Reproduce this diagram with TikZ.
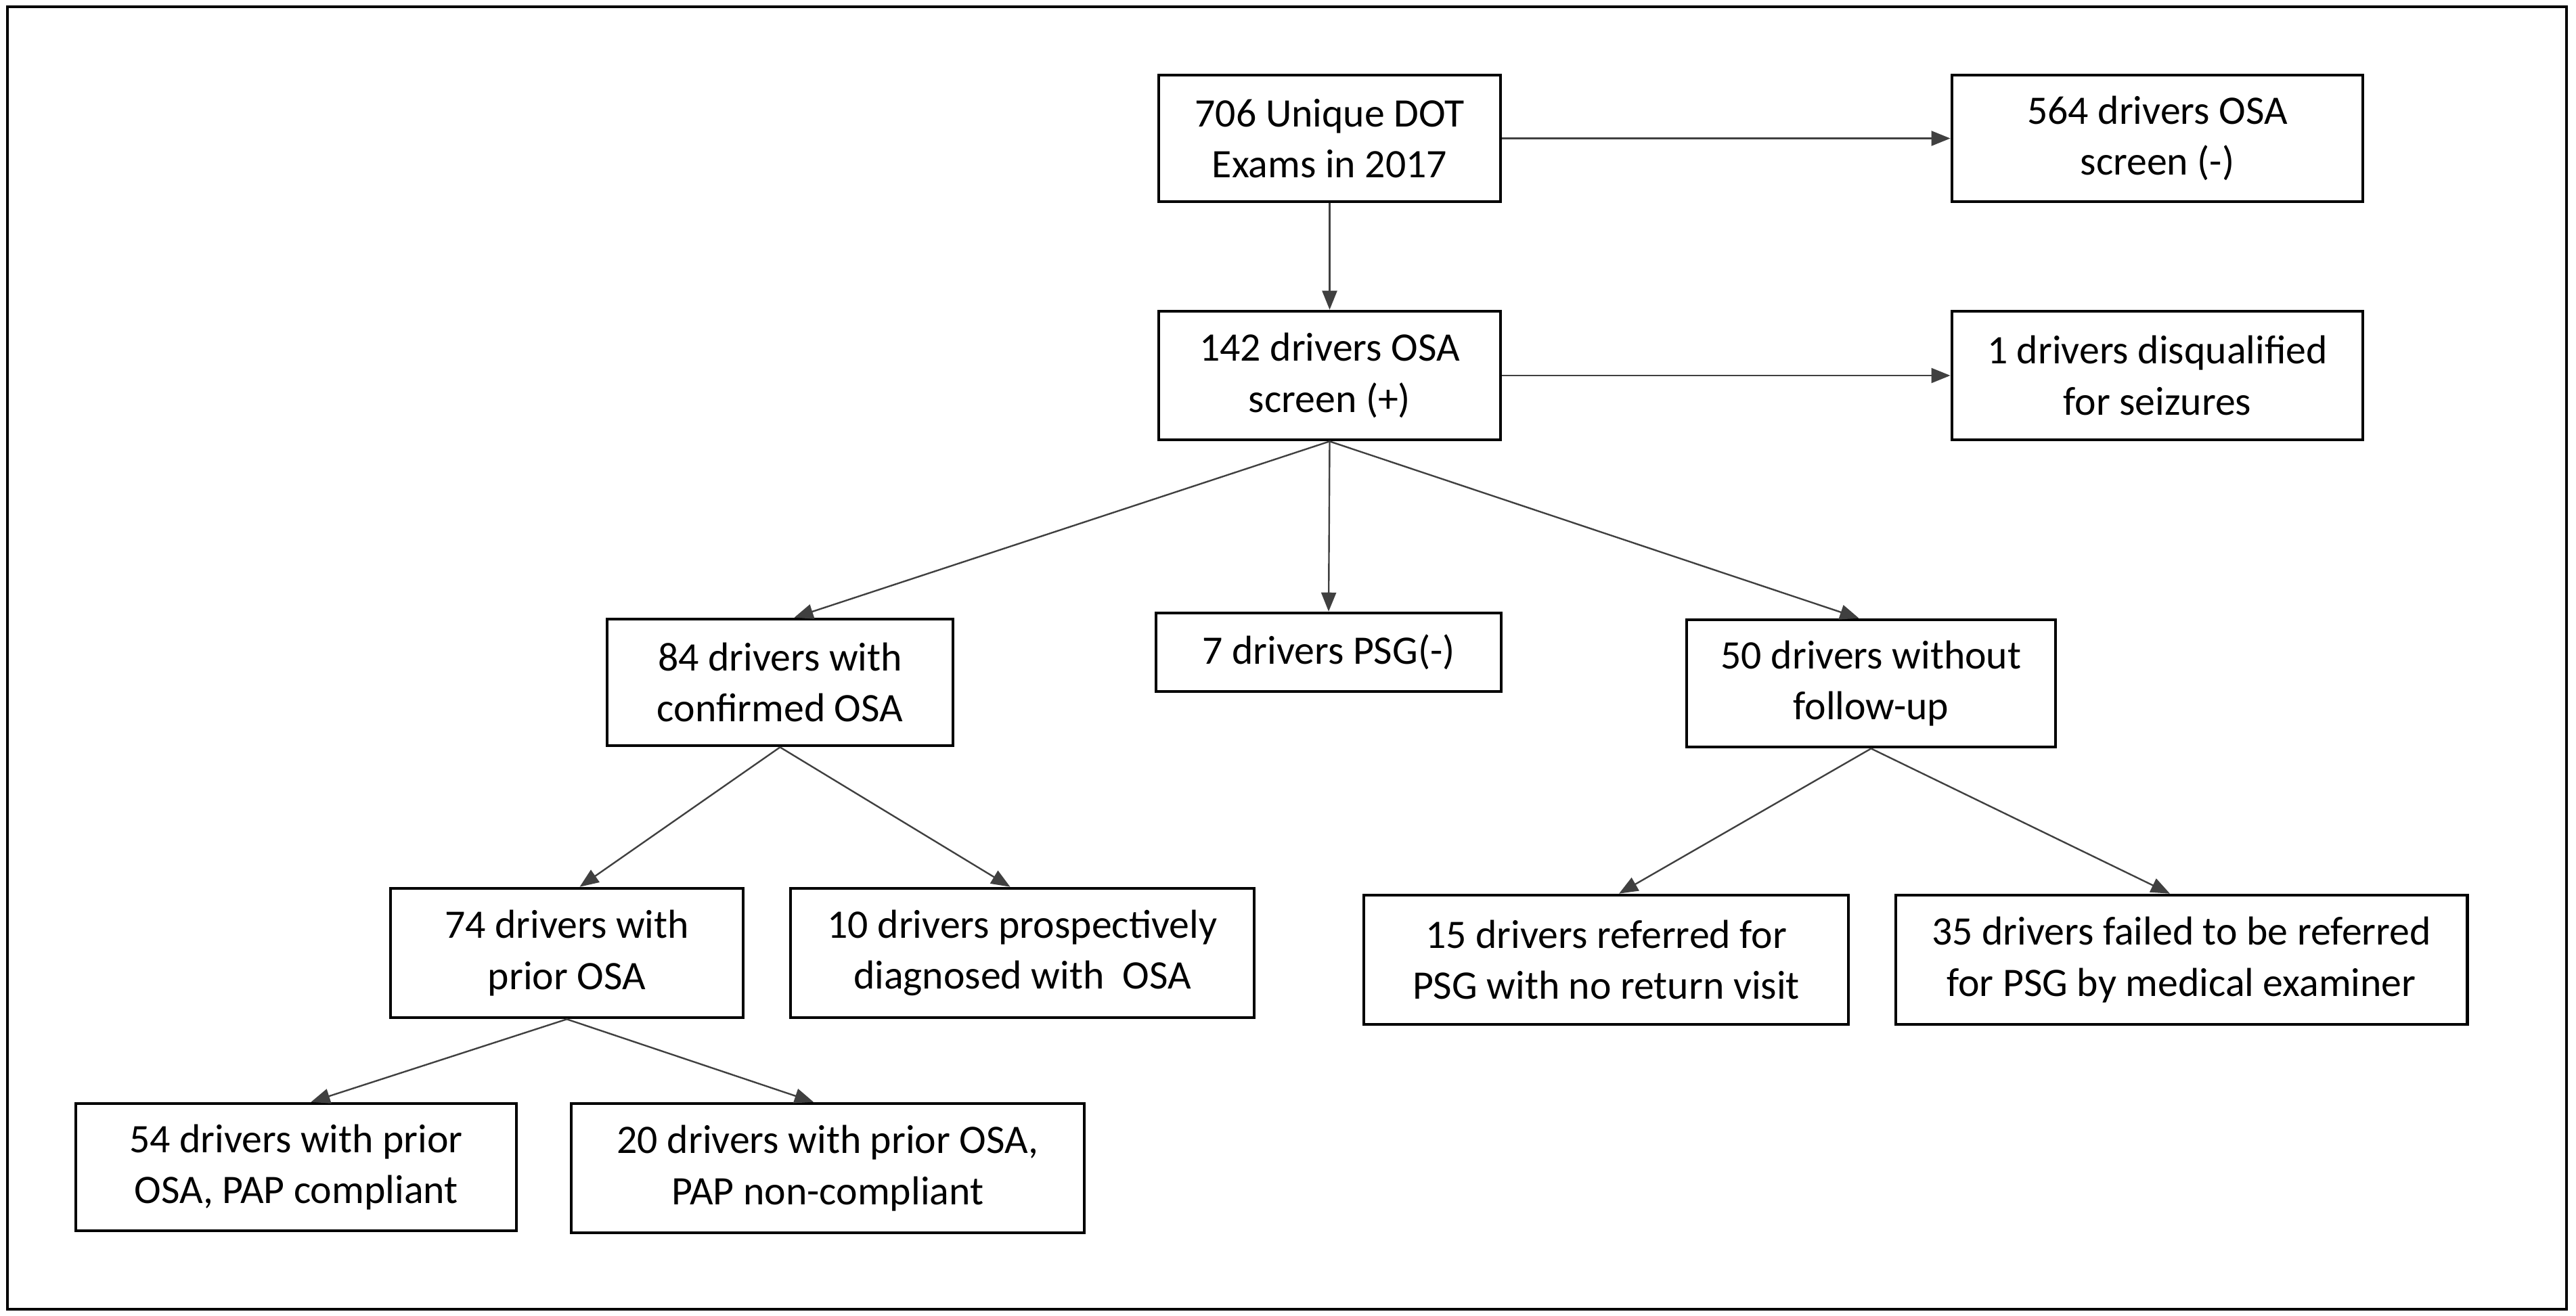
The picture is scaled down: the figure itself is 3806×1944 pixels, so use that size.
\documentclass[tikz,border=0pt]{standalone}
\usepackage{fontspec}
\setmainfont{Carlito}
\usetikzlibrary{arrows.meta,calc}
\tikzset{
  x=0.01cm, y=-0.01cm,
  box/.style={draw=black, line width=0.045cm, fill=white, align=center, inner sep=0pt,
    font=\fontsize{17}{21.5}\selectfont},
  conn/.style={draw=black!75, line width=0.024cm,
    -{Triangle[length=0.28cm,width=0.22cm]}},
}
\begin{document}
\begin{tikzpicture}
\useasboundingbox (0,0) rectangle (3806,1944);
\draw[line width=0.04cm] (11,10) rectangle (3792,1935);

\node[box, minimum width=5.05cm, minimum height=1.87cm] (n706) at (1964.5,204.5) {706 Unique DOT\\Exams in 2017};
\node[box, minimum width=6.07cm, minimum height=1.87cm] (n564) at (3187.5,204.5) {564 drivers OSA\\screen (-)};
\node[box, minimum width=5.05cm, minimum height=1.90cm] (n142) at (1964.5,555) {142 drivers OSA\\screen (+)};
\node[box, minimum width=6.07cm, minimum height=1.90cm] (n1) at (3187.5,555) {1 drivers disqualified\\for seizures};
\node[box, minimum width=5.11cm, minimum height=1.87cm] (n84) at (1152.5,1008.5) {84 drivers with\\confirmed OSA};
\node[box, minimum width=5.10cm, minimum height=1.16cm] (n7) at (1963,964) {7 drivers PSG(-)};
\node[box, minimum width=5.45cm, minimum height=1.88cm] (n50) at (2764.5,1010) {50 drivers without\\follow-up};
\node[box, minimum width=5.21cm, minimum height=1.91cm] (n74) at (837.5,1408.5) {74 drivers with\\prior OSA};
\node[box, minimum width=6.85cm, minimum height=1.91cm] (n10) at (1510.5,1408.5) {10 drivers prospectively\\diagnosed with \ OSA};
\node[box, minimum width=7.16cm, minimum height=1.91cm] (n15) at (2373,1418.5) {15 drivers referred for\\PSG with no return visit};
\node[box, minimum width=8.44cm, minimum height=1.91cm] (n35) at (3223,1418.5) {35 drivers failed to be referred\\for PSG by medical examiner};
\node[box, minimum width=6.51cm, minimum height=1.88cm] (n54) at (437.5,1725) {54 drivers with prior\\OSA, PAP compliant};
\node[box, minimum width=7.58cm, minimum height=1.91cm] (n20) at (1223,1726.5) {20 drivers with prior OSA,\\PAP non-compliant};

\draw[conn] (n706.east) -- (n564.west);
\draw[conn] (n706.south) -- (n142.north);
\draw[conn] (n142.east) -- (n1.west);
\draw[conn] (n142.south) -- ($(n84.north)+(21,0)$);
\draw[conn] (n142.south) -- (n7.north);
\draw[conn] (n142.south) -- ($(n50.north)+(-18,0)$);
\draw[conn] (n84.south) -- ($(n74.north)+(19,0)$);
\draw[conn] (n84.south) -- ($(n10.north)+(-18,0)$);
\draw[conn] (n50.south) -- ($(n15.north)+(19,0)$);
\draw[conn] (n50.south) -- ($(n35.north)+(-17,0)$);
\draw[conn] (n74.south) -- ($(n54.north)+(22,0)$);
\draw[conn] (n74.south) -- ($(n20.north)+(-21,0)$);
\end{tikzpicture}
\end{document}
